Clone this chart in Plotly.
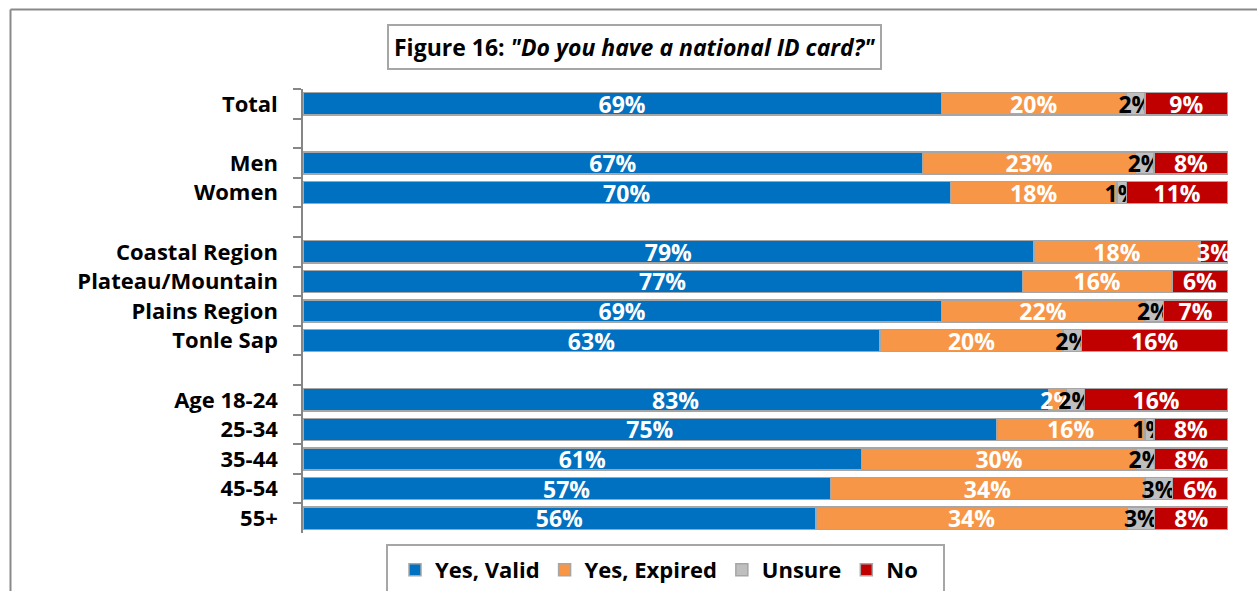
import plotly.graph_objects as go

# Survey groups, top to bottom; blank entries are spacer rows between groups
categories = ["Total", " ", "Men", "Women", "  ",
              "Coastal Region", "Plateau/Mountain", "Plains Region", "Tonle Sap", "   ",
              "Age 18-24", "25-34", "35-44", "45-54", "55+"]

yes_valid = [69, None, 67, 70, None, 79, 77, 69, 63, None, 83, 75, 61, 57, 56]
yes_expired = [20, None, 23, 18, None, 18, 16, 22, 20, None, 2, 16, 30, 34, 34]
unsure = [2, None, 2, 1, None, 0, 0, 2, 2, None, 2, 1, 2, 3, 3]
no = [9, None, 8, 11, None, 3, 6, 7, 16, None, 16, 8, 8, 6, 8]

series = [
    ("Yes, Valid", yes_valid, "#0070C0", "white"),
    ("Yes, Expired", yes_expired, "#F79646", "white"),
    ("Unsure", unsure, "#BFBFBF", "black"),
    ("No", no, "#C00000", "white"),
]

FONT = "'Open Sans', Lato, sans-serif"
LABEL_FS = 23
TICK_FS = 22
TITLE_FS = 23
LEGEND_FS = 22

fig = go.Figure()
for name, vals, color, tcolor in series:
    labels = ["" if (v is None or v == 0) else f"{v}%" for v in vals]
    fig.add_trace(go.Bar(
        name=name, y=categories, x=vals, orientation="h",
        marker=dict(color=color, line=dict(color="#A6A6A6", width=1.5)),
        text=labels, textposition="inside", insidetextanchor="middle",
        textangle=0, constraintext="none",
        textfont=dict(family=FONT, size=LABEL_FS, color=tcolor, weight="bold"),
        hoverinfo="skip",
    ))

# pixel -> paper helpers for the frame, title box and legend
L, R, T, B = 303, 1228, 89, 533
W, H = R - L, B - T
px = lambda x: (x - L) / W
py = lambda y: (B - y) / H

fig.update_layout(
    width=1257, height=591,
    margin=dict(l=L, r=1257 - R, t=T, b=591 - B, autoexpand=False),
    barmode="stack", barnorm="percent", bargap=0.25,
    plot_bgcolor="white", paper_bgcolor="white",
    uniformtext=dict(minsize=LABEL_FS, mode="show"),
    font=dict(family=FONT, size=TICK_FS, color="black"),
    xaxis=dict(visible=False, range=[0, 100], fixedrange=True),
    yaxis=dict(
        type="category", categoryorder="array", categoryarray=categories,
        autorange="reversed", tickson="boundaries", ticks="outside",
        ticklen=8, tickwidth=1.5, tickcolor="#868686",
        showline=True, linecolor="#868686", linewidth=1.5,
        showgrid=False, ticklabelstandoff=19,
        tickfont=dict(family=FONT, size=TICK_FS, color="black", weight="bold"),
    ),
    showlegend=True,
    legend=dict(
        orientation="h", x=px(395), xanchor="left", y=py(549), yanchor="top",
        borderwidth=0, bgcolor="rgba(0,0,0,0)",
        font=dict(family=FONT, size=LEGEND_FS, color="black", weight="bold"),
        traceorder="normal", itemclick=False,
    ),
    shapes=[
        # outer chart frame (left and top edges)
        dict(type="line", xref="paper", yref="paper",
             x0=px(10.5), x1=px(10.5), y0=py(9.5), y1=py(600),
             line=dict(color="#898989", width=2)),
        dict(type="line", xref="paper", yref="paper",
             x0=px(10.5), x1=px(1262), y0=py(9.5), y1=py(9.5),
             line=dict(color="#898989", width=2)),
        # legend box
        dict(type="rect", xref="paper", yref="paper",
             x0=px(387), x1=px(944), y0=py(545), y1=py(605),
             line=dict(color="#A6A6A6", width=2), fillcolor="white",
             layer="below"),
    ],
    annotations=[
        dict(xref="paper", yref="paper", x=px(634.5), y=py(47),
             xanchor="center", yanchor="middle", showarrow=False,
             text='<b>Figure 16: <i>"Do you have a national ID card?"</i></b>',
             font=dict(family=FONT, size=TITLE_FS, color="black"),
             bordercolor="#A6A6A6", borderwidth=2, borderpad=5,
             bgcolor="white"),
    ],
)

fig.write_html("out.html")
